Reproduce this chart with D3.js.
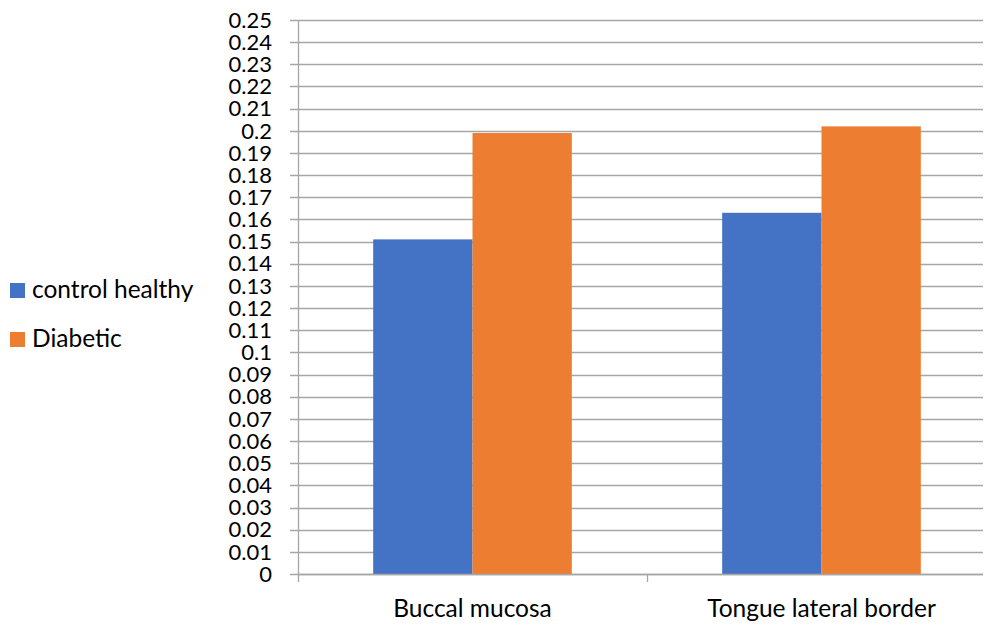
<!DOCTYPE html>
<html>
<head>
<meta charset="utf-8">
<script src="https://cdnjs.cloudflare.com/ajax/libs/d3/7.8.5/d3.min.js"></script>
<style>
  html, body { margin: 0; padding: 0; background: #fff; }
  svg text { font-family: Lato, "Open Sans", sans-serif; fill: #000; }
</style>
</head>
<body>
<svg id="chart" width="985" height="624"></svg>
<script>
// Sites sampled and the mean value for each group
const categories = ["Buccal mucosa", "Tongue lateral border"];
const seriesNames = ["control healthy", "Diabetic"];
const controlHealthy = [0.151, 0.163];
const diabetic = [0.199, 0.202];
const seriesColors = ["#4472C4", "#ED7D31"];
const yTicks = d3.range(0, 26).map(i => i / 100);
const yTickLabels = yTicks.map(v => v === 0 ? "0" : String(+v.toFixed(2)));

const series = [controlHealthy, diabetic];

const svg = d3.select("#chart");
const tickFont = 22;
const labelFont = 24.5;

const plot = { left: 298, right: 996, top: 20, bottom: 574, gridEnd: 983 };

const y = d3.scaleLinear().domain([0, 0.25]).range([plot.bottom, plot.top]);
const x0 = d3.scaleBand().domain(categories).range([plot.left, plot.right]).paddingInner(0).paddingOuter(0);
const x1 = d3.scaleBand().domain(seriesNames).range([0, x0.bandwidth()]).paddingInner(0).paddingOuter(0.757);

// horizontal gridlines (they extend a little left of the axis as tick marks)
svg.append("g")
  .selectAll("line")
  .data(yTicks)
  .join("line")
  .attr("x1", plot.left - 8)
  .attr("x2", plot.gridEnd)
  .attr("y1", d => Math.round(y(d)) + 0.5)
  .attr("y2", d => Math.round(y(d)) + 0.5)
  .attr("stroke", "#A6A6A6")
  .attr("stroke-width", 1.3);

// y tick labels
svg.append("g")
  .selectAll("text")
  .data(yTicks)
  .join("text")
  .attr("x", 272)
  .attr("y", d => y(d))
  .attr("dy", "0.35em")
  .attr("text-anchor", "end")
  .attr("font-size", tickFont)
  .text((d, i) => yTickLabels[i]);

// bars
const groups = svg.append("g")
  .selectAll("g")
  .data(categories)
  .join("g")
  .attr("transform", d => `translate(${x0(d)},0)`);

groups.selectAll("rect")
  .data((c, ci) => seriesNames.map((s, si) => ({ s, v: series[si][ci], si })))
  .join("rect")
  .attr("x", d => x1(d.s))
  .attr("width", x1.bandwidth())
  .attr("y", d => y(d.v))
  .attr("height", d => y(0) - y(d.v))
  .attr("fill", d => seriesColors[d.si]);

// y axis line
svg.append("line")
  .attr("x1", plot.left + 0.5).attr("x2", plot.left + 0.5)
  .attr("y1", plot.top).attr("y2", plot.bottom + 8)
  .attr("stroke", "#A6A6A6").attr("stroke-width", 1.3);

// x axis baseline and the tick between categories
svg.append("line")
  .attr("x1", plot.left).attr("x2", plot.gridEnd)
  .attr("y1", Math.round(y(0)) + 0.5).attr("y2", Math.round(y(0)) + 0.5)
  .attr("stroke", "#A6A6A6").attr("stroke-width", 1.3);
svg.append("g")
  .selectAll("line")
  .data(categories.slice(1))
  .join("line")
  .attr("x1", d => Math.round(x0(d)) + 0.5)
  .attr("x2", d => Math.round(x0(d)) + 0.5)
  .attr("y1", plot.bottom)
  .attr("y2", plot.bottom + 8)
  .attr("stroke", "#A6A6A6").attr("stroke-width", 1.3);

// category labels
svg.append("g")
  .selectAll("text")
  .data(categories)
  .join("text")
  .attr("x", d => x0(d) + x0.bandwidth() / 2)
  .attr("y", 617)
  .attr("text-anchor", "middle")
  .attr("font-size", labelFont)
  .text(d => d);

// legend
const legend = svg.append("g")
  .selectAll("g")
  .data(seriesNames)
  .join("g")
  .attr("transform", (d, i) => `translate(10, ${283 + i * 49})`);
legend.append("rect")
  .attr("width", 15).attr("height", 15)
  .attr("fill", (d, i) => seriesColors[i]);
legend.append("text")
  .attr("x", 22)
  .attr("y", 15)
  .attr("font-size", labelFont)
  .text(d => d);
</script>
</body>
</html>
